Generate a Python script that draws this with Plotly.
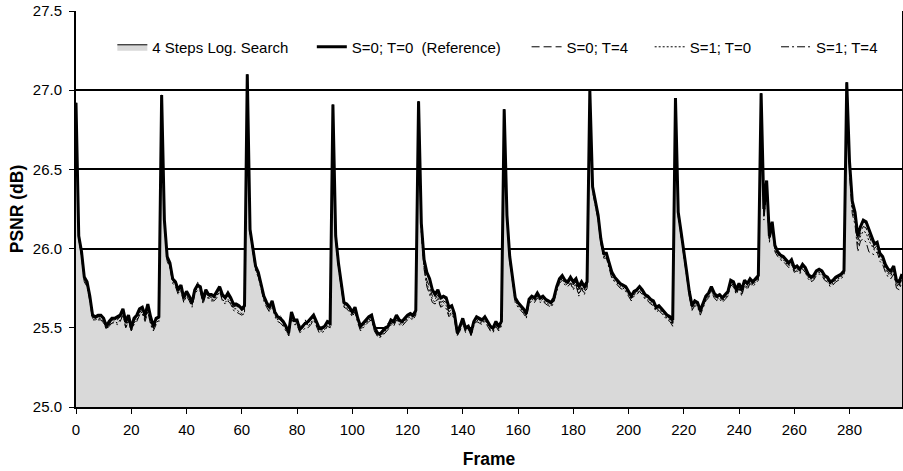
import plotly.graph_objects as go

frames = list(range(300))

psnr_s0_t0 = [
    26.92, 26.08, 25.98, 25.82, 25.79, 25.70, 25.58, 25.57, 25.58, 25.58,
    25.56, 25.51, 25.54, 25.56, 25.56, 25.57, 25.58, 25.62, 25.54, 25.58,
    25.50, 25.56, 25.58, 25.62, 25.63, 25.58, 25.65, 25.57, 25.51, 25.56,
    25.57, 26.97, 26.18, 25.95, 25.91, 25.81, 25.79, 25.74, 25.77, 25.69,
    25.73, 25.70, 25.66, 25.74, 25.77, 25.76, 25.68, 25.74, 25.71, 25.71,
    25.70, 25.73, 25.76, 25.71, 25.69, 25.72, 25.69, 25.65, 25.65, 25.64,
    25.62, 25.64, 27.10, 26.12, 26.00, 25.89, 25.85, 25.77, 25.70, 25.66,
    25.63, 25.67, 25.60, 25.57, 25.56, 25.54, 25.51, 25.47, 25.60, 25.55,
    25.55, 25.49, 25.51, 25.53, 25.54, 25.56, 25.58, 25.54, 25.50, 25.50,
    25.51, 25.54, 25.53, 26.91, 26.08, 25.91, 25.79, 25.66, 25.65, 25.63,
    25.60, 25.63, 25.56, 25.51, 25.53, 25.55, 25.57, 25.58, 25.51, 25.47,
    25.46, 25.48, 25.50, 25.51, 25.55, 25.54, 25.58, 25.55, 25.54, 25.56,
    25.58, 25.59, 25.58, 25.61, 26.93, 26.16, 25.93, 25.85, 25.81, 25.74,
    25.71, 25.74, 25.69, 25.70, 25.69, 25.63, 25.64, 25.59, 25.47, 25.51,
    25.56, 25.50, 25.51, 25.47, 25.54, 25.57, 25.56, 25.55, 25.57, 25.54,
    25.51, 25.50, 25.54, 25.51, 25.54, 26.88, 26.21, 25.95, 25.81, 25.69,
    25.66, 25.64, 25.62, 25.59, 25.68, 25.70, 25.69, 25.72, 25.69, 25.70,
    25.68, 25.67, 25.66, 25.69, 25.76, 25.81, 25.83, 25.80, 25.79, 25.82,
    25.79, 25.81, 25.76, 25.79, 25.76, 25.79, 27.00, 26.39, 26.31, 26.21,
    26.06, 25.97, 25.97, 25.91, 25.85, 25.82, 25.80, 25.78, 25.77, 25.76,
    25.73, 25.70, 25.73, 25.74, 25.76, 25.74, 25.71, 25.70, 25.68, 25.67,
    25.63, 25.64, 25.62, 25.60, 25.58, 25.57, 25.55, 26.95, 26.23, 26.11,
    26.00, 25.86, 25.73, 25.64, 25.67, 25.66, 25.61, 25.66, 25.70, 25.72,
    25.76, 25.72, 25.70, 25.71, 25.69, 25.71, 25.73, 25.80, 25.79, 25.74,
    25.78, 25.74, 25.80, 25.78, 25.81, 25.79, 25.81, 25.83, 26.98, 26.25,
    26.43, 26.08, 26.17, 26.02, 25.98, 25.96, 25.95, 25.93, 25.91, 25.93,
    25.88, 25.89, 25.87, 25.90, 25.88, 25.84, 25.82, 25.83, 25.86, 25.87,
    25.86, 25.83, 25.82, 25.79, 25.80, 25.82, 25.83, 25.84, 25.86, 27.05,
    26.55, 26.30, 26.23, 26.08, 26.14, 26.18, 26.17, 26.12, 26.07, 26.03,
    26.04, 25.97, 25.95, 25.90, 25.87, 25.86, 25.89, 25.80, 25.79, 25.84,
]

psnr_s0_t4 = [
    26.92, 26.06, 25.97, 25.81, 25.78, 25.69, 25.57, 25.56, 25.57, 25.57,
    25.55, 25.50, 25.52, 25.55, 25.55, 25.55, 25.57, 25.60, 25.52, 25.57,
    25.49, 25.54, 25.57, 25.60, 25.61, 25.56, 25.63, 25.55, 25.50, 25.55,
    25.56, 26.97, 26.16, 25.94, 25.90, 25.80, 25.78, 25.73, 25.76, 25.68,
    25.72, 25.69, 25.65, 25.73, 25.75, 25.75, 25.67, 25.73, 25.70, 25.69,
    25.69, 25.72, 25.75, 25.70, 25.68, 25.70, 25.68, 25.63, 25.64, 25.62,
    25.61, 25.62, 27.10, 26.10, 25.99, 25.88, 25.84, 25.76, 25.69, 25.65,
    25.62, 25.66, 25.59, 25.56, 25.55, 25.53, 25.50, 25.46, 25.58, 25.54,
    25.54, 25.48, 25.50, 25.52, 25.53, 25.55, 25.57, 25.53, 25.49, 25.49,
    25.50, 25.53, 25.52, 26.91, 26.06, 25.89, 25.78, 25.65, 25.64, 25.62,
    25.59, 25.62, 25.55, 25.50, 25.52, 25.54, 25.56, 25.57, 25.50, 25.46,
    25.45, 25.47, 25.49, 25.50, 25.54, 25.53, 25.57, 25.54, 25.53, 25.55,
    25.57, 25.58, 25.57, 25.60, 26.93, 26.12, 25.90, 25.80, 25.76, 25.70,
    25.68, 25.71, 25.66, 25.67, 25.66, 25.60, 25.62, 25.57, 25.46, 25.50,
    25.55, 25.49, 25.50, 25.46, 25.53, 25.56, 25.55, 25.54, 25.56, 25.53,
    25.50, 25.49, 25.53, 25.50, 25.53, 26.88, 26.19, 25.94, 25.80, 25.68,
    25.65, 25.63, 25.61, 25.58, 25.67, 25.69, 25.68, 25.71, 25.68, 25.69,
    25.67, 25.66, 25.65, 25.68, 25.75, 25.80, 25.82, 25.79, 25.78, 25.80,
    25.77, 25.79, 25.74, 25.77, 25.74, 25.77, 27.00, 26.38, 26.30, 26.20,
    26.05, 25.96, 25.96, 25.90, 25.84, 25.81, 25.79, 25.77, 25.76, 25.75,
    25.72, 25.69, 25.72, 25.73, 25.75, 25.73, 25.70, 25.69, 25.67, 25.66,
    25.62, 25.63, 25.61, 25.59, 25.57, 25.56, 25.53, 26.95, 26.22, 26.10,
    25.99, 25.85, 25.72, 25.63, 25.66, 25.65, 25.60, 25.65, 25.69, 25.71,
    25.75, 25.71, 25.69, 25.70, 25.68, 25.70, 25.72, 25.79, 25.78, 25.73,
    25.77, 25.73, 25.79, 25.77, 25.80, 25.78, 25.80, 25.82, 26.98, 26.22,
    26.40, 26.06, 26.15, 26.00, 25.97, 25.95, 25.94, 25.92, 25.90, 25.92,
    25.87, 25.88, 25.86, 25.89, 25.87, 25.83, 25.81, 25.82, 25.85, 25.86,
    25.85, 25.82, 25.81, 25.78, 25.79, 25.81, 25.82, 25.83, 25.85, 27.05,
    26.52, 26.27, 26.20, 26.05, 26.10, 26.14, 26.13, 26.08, 26.04, 26.00,
    26.02, 25.95, 25.93, 25.88, 25.85, 25.84, 25.87, 25.78, 25.77, 25.82,
]

psnr_s1_t0 = [
    26.92, 26.07, 25.96, 25.80, 25.77, 25.68, 25.56, 25.55, 25.56, 25.56,
    25.54, 25.49, 25.52, 25.53, 25.54, 25.53, 25.55, 25.59, 25.50, 25.55,
    25.48, 25.53, 25.55, 25.59, 25.60, 25.55, 25.61, 25.53, 25.49, 25.53,
    25.55, 26.97, 26.17, 25.93, 25.89, 25.79, 25.77, 25.72, 25.74, 25.67,
    25.71, 25.68, 25.64, 25.72, 25.79, 25.74, 25.66, 25.72, 25.69, 25.68,
    25.68, 25.70, 25.74, 25.68, 25.66, 25.68, 25.66, 25.62, 25.62, 25.60,
    25.59, 25.60, 27.10, 26.11, 25.98, 25.87, 25.83, 25.78, 25.68, 25.64,
    25.61, 25.65, 25.58, 25.55, 25.58, 25.52, 25.49, 25.45, 25.57, 25.53,
    25.53, 25.52, 25.49, 25.55, 25.51, 25.53, 25.56, 25.52, 25.48, 25.48,
    25.49, 25.52, 25.51, 26.91, 26.07, 25.90, 25.77, 25.64, 25.63, 25.61,
    25.58, 25.61, 25.54, 25.49, 25.51, 25.53, 25.55, 25.56, 25.49, 25.45,
    25.44, 25.46, 25.48, 25.53, 25.53, 25.52, 25.56, 25.53, 25.52, 25.54,
    25.56, 25.57, 25.56, 25.59, 26.93, 26.14, 25.88, 25.78, 25.73, 25.68,
    25.66, 25.69, 25.64, 25.66, 25.64, 25.58, 25.60, 25.56, 25.45, 25.49,
    25.54, 25.48, 25.52, 25.45, 25.52, 25.55, 25.54, 25.53, 25.55, 25.52,
    25.49, 25.48, 25.52, 25.49, 25.52, 26.88, 26.20, 25.93, 25.79, 25.67,
    25.64, 25.62, 25.60, 25.57, 25.66, 25.68, 25.67, 25.70, 25.67, 25.68,
    25.66, 25.65, 25.64, 25.67, 25.74, 25.79, 25.81, 25.78, 25.77, 25.79,
    25.75, 25.78, 25.71, 25.76, 25.72, 25.76, 27.00, 26.37, 26.29, 26.19,
    26.04, 25.95, 25.95, 25.89, 25.82, 25.80, 25.78, 25.76, 25.75, 25.74,
    25.71, 25.68, 25.71, 25.72, 25.74, 25.72, 25.69, 25.68, 25.66, 25.65,
    25.61, 25.62, 25.60, 25.58, 25.56, 25.55, 25.52, 26.95, 26.21, 26.09,
    25.98, 25.84, 25.71, 25.62, 25.65, 25.64, 25.59, 25.64, 25.68, 25.70,
    25.74, 25.70, 25.68, 25.69, 25.67, 25.69, 25.71, 25.78, 25.77, 25.72,
    25.76, 25.71, 25.78, 25.75, 25.79, 25.77, 25.79, 25.81, 26.98, 26.20,
    26.38, 26.05, 26.14, 25.99, 25.96, 25.94, 25.93, 25.91, 25.89, 25.91,
    25.86, 25.87, 25.85, 25.88, 25.86, 25.82, 25.80, 25.81, 25.84, 25.85,
    25.84, 25.81, 25.80, 25.77, 25.78, 25.80, 25.81, 25.82, 25.84, 27.05,
    26.50, 26.25, 26.18, 26.02, 26.08, 26.11, 26.10, 26.05, 26.02, 25.99,
    26.00, 25.94, 25.92, 25.87, 25.84, 25.83, 25.86, 25.77, 25.76, 25.81,
]

psnr_s1_t4 = [
    26.92, 26.06, 25.95, 25.79, 25.76, 25.67, 25.55, 25.55, 25.55, 25.55,
    25.53, 25.49, 25.51, 25.53, 25.53, 25.52, 25.54, 25.58, 25.50, 25.54,
    25.48, 25.52, 25.54, 25.58, 25.59, 25.54, 25.60, 25.52, 25.48, 25.52,
    25.54, 26.97, 26.16, 25.92, 25.88, 25.78, 25.76, 25.71, 25.73, 25.66,
    25.70, 25.67, 25.63, 25.71, 25.74, 25.73, 25.65, 25.71, 25.68, 25.67,
    25.67, 25.69, 25.73, 25.67, 25.65, 25.67, 25.65, 25.61, 25.60, 25.59,
    25.58, 25.59, 27.10, 26.10, 25.97, 25.86, 25.82, 25.75, 25.67, 25.63,
    25.60, 25.64, 25.57, 25.54, 25.53, 25.51, 25.48, 25.45, 25.56, 25.52,
    25.52, 25.47, 25.48, 25.50, 25.50, 25.52, 25.55, 25.51, 25.47, 25.47,
    25.48, 25.51, 25.50, 26.91, 26.05, 25.88, 25.76, 25.63, 25.62, 25.60,
    25.57, 25.60, 25.53, 25.48, 25.50, 25.52, 25.54, 25.55, 25.48, 25.45,
    25.44, 25.45, 25.47, 25.49, 25.52, 25.51, 25.55, 25.52, 25.51, 25.53,
    25.55, 25.56, 25.55, 25.58, 26.93, 26.10, 25.87, 25.76, 25.71, 25.66,
    25.65, 25.68, 25.63, 25.64, 25.62, 25.57, 25.59, 25.55, 25.45, 25.48,
    25.53, 25.47, 25.49, 25.45, 25.51, 25.54, 25.53, 25.52, 25.54, 25.51,
    25.48, 25.47, 25.51, 25.48, 25.51, 26.88, 26.18, 25.92, 25.78, 25.66,
    25.63, 25.61, 25.59, 25.56, 25.65, 25.67, 25.66, 25.69, 25.66, 25.67,
    25.65, 25.64, 25.63, 25.66, 25.73, 25.78, 25.80, 25.77, 25.76, 25.78,
    25.74, 25.77, 25.70, 25.75, 25.71, 25.75, 27.00, 26.36, 26.28, 26.18,
    26.03, 25.94, 25.94, 25.88, 25.81, 25.79, 25.77, 25.75, 25.74, 25.73,
    25.70, 25.67, 25.70, 25.71, 25.73, 25.71, 25.68, 25.67, 25.65, 25.64,
    25.60, 25.61, 25.59, 25.57, 25.55, 25.54, 25.51, 26.95, 26.20, 26.08,
    25.97, 25.83, 25.70, 25.61, 25.64, 25.63, 25.58, 25.63, 25.67, 25.69,
    25.73, 25.69, 25.67, 25.68, 25.66, 25.68, 25.70, 25.77, 25.76, 25.71,
    25.75, 25.70, 25.77, 25.74, 25.78, 25.76, 25.78, 25.80, 26.98, 26.18,
    26.36, 26.04, 26.13, 25.98, 25.95, 25.93, 25.92, 25.90, 25.88, 25.90,
    25.85, 25.86, 25.84, 25.87, 25.85, 25.81, 25.79, 25.80, 25.83, 25.84,
    25.83, 25.80, 25.79, 25.76, 25.77, 25.79, 25.80, 25.81, 25.83, 27.05,
    26.48, 26.22, 26.15, 25.98, 26.05, 26.06, 26.04, 25.98, 25.97, 25.96,
    25.98, 25.92, 25.90, 25.85, 25.82, 25.81, 25.84, 25.75, 25.74, 25.79,
]

psnr_logsearch = [
    26.91, 26.07, 25.97, 25.81, 25.78, 25.69, 25.57, 25.56, 25.57, 25.57,
    25.55, 25.50, 25.53, 25.55, 25.55, 25.56, 25.57, 25.61, 25.53, 25.57,
    25.49, 25.55, 25.57, 25.61, 25.62, 25.57, 25.64, 25.56, 25.50, 25.55,
    25.56, 26.96, 26.17, 25.94, 25.90, 25.80, 25.78, 25.73, 25.76, 25.68,
    25.72, 25.69, 25.65, 25.73, 25.76, 25.75, 25.67, 25.73, 25.70, 25.70,
    25.69, 25.72, 25.75, 25.70, 25.68, 25.71, 25.68, 25.64, 25.64, 25.63,
    25.61, 25.63, 27.09, 26.11, 25.99, 25.88, 25.84, 25.76, 25.69, 25.65,
    25.62, 25.66, 25.59, 25.56, 25.55, 25.53, 25.50, 25.46, 25.59, 25.54,
    25.54, 25.48, 25.50, 25.52, 25.53, 25.55, 25.57, 25.53, 25.49, 25.49,
    25.50, 25.53, 25.52, 26.90, 26.07, 25.90, 25.78, 25.65, 25.64, 25.62,
    25.59, 25.62, 25.55, 25.50, 25.52, 25.54, 25.56, 25.57, 25.50, 25.46,
    25.45, 25.47, 25.49, 25.50, 25.54, 25.53, 25.57, 25.54, 25.53, 25.55,
    25.57, 25.58, 25.57, 25.60, 26.92, 26.15, 25.92, 25.84, 25.80, 25.73,
    25.70, 25.73, 25.68, 25.69, 25.68, 25.62, 25.63, 25.58, 25.46, 25.50,
    25.55, 25.49, 25.50, 25.46, 25.53, 25.56, 25.55, 25.54, 25.56, 25.53,
    25.50, 25.49, 25.53, 25.50, 25.53, 26.87, 26.20, 25.94, 25.80, 25.68,
    25.65, 25.63, 25.61, 25.58, 25.67, 25.69, 25.68, 25.71, 25.68, 25.69,
    25.67, 25.66, 25.65, 25.68, 25.75, 25.80, 25.82, 25.79, 25.78, 25.81,
    25.78, 25.80, 25.75, 25.78, 25.75, 25.78, 26.99, 26.38, 26.30, 26.20,
    26.05, 25.96, 25.96, 25.90, 25.84, 25.81, 25.79, 25.77, 25.76, 25.75,
    25.72, 25.69, 25.72, 25.73, 25.75, 25.73, 25.70, 25.69, 25.67, 25.66,
    25.62, 25.63, 25.61, 25.59, 25.57, 25.56, 25.54, 26.94, 26.22, 26.10,
    25.99, 25.85, 25.72, 25.63, 25.66, 25.65, 25.60, 25.65, 25.69, 25.71,
    25.75, 25.71, 25.69, 25.70, 25.68, 25.70, 25.72, 25.79, 25.78, 25.73,
    25.77, 25.73, 25.79, 25.77, 25.80, 25.78, 25.80, 25.82, 26.97, 26.24,
    26.42, 26.07, 26.16, 26.01, 25.97, 25.95, 25.94, 25.92, 25.90, 25.92,
    25.87, 25.88, 25.86, 25.89, 25.87, 25.83, 25.81, 25.82, 25.85, 25.86,
    25.85, 25.82, 25.81, 25.78, 25.79, 25.81, 25.82, 25.83, 25.85, 27.04,
    26.54, 26.29, 26.22, 26.07, 26.13, 26.17, 26.16, 26.11, 26.06, 26.02,
    26.03, 25.96, 25.94, 25.89, 25.86, 25.85, 25.88, 25.79, 25.78, 25.83,
]

series_names = ["4 Steps Log. Search", "S=0; T=0  (Reference)", "S=0; T=4",
                "S=1; T=0", "S=1; T=4"]
x_ticks = list(range(0, 300, 20))
y_ticks = [25.0, 25.5, 26.0, 26.5, 27.0, 27.5]

FONT = "Liberation Sans, Arial, sans-serif"

fig = go.Figure()
fig.add_trace(go.Scatter(
    x=frames, y=psnr_logsearch, name=series_names[0], mode="lines",
    fill="tozeroy", fillcolor="#d9d9d9", showlegend=True,
    line=dict(color="black", width=1), legend="legend"))
fig.add_trace(go.Scatter(
    x=frames, y=psnr_s0_t4, name=series_names[2], mode="lines", showlegend=True,
    line=dict(color="black", width=1, dash="8px,4px"), legend="legend3"))
fig.add_trace(go.Scatter(
    x=frames, y=psnr_s1_t0, name=series_names[3], mode="lines", showlegend=True,
    line=dict(color="black", width=1, dash="2px,2px"), legend="legend4"))
fig.add_trace(go.Scatter(
    x=frames, y=psnr_s1_t4, name=series_names[4], mode="lines", showlegend=True,
    line=dict(color="black", width=1, dash="8px,3px,2px,3px"), legend="legend5"))
fig.add_trace(go.Scatter(
    x=frames, y=psnr_s0_t0, name=series_names[1], mode="lines", showlegend=True,
    line=dict(color="black", width=3), legend="legend2"))

leg_y = 0.909
def leg(xpos):
    return dict(x=xpos, y=leg_y, xanchor="left", yanchor="middle",
                orientation="h", bgcolor="rgba(0,0,0,0)", borderwidth=0,
                font=dict(family=FONT, size=15, color="black"))

fig.update_layout(
    width=903, height=471,
    showlegend=True,
    margin=dict(l=76, r=1, t=11, b=64, autoexpand=False),
    paper_bgcolor="white", plot_bgcolor="white",
    font=dict(family=FONT, size=15, color="black"),
    legend=leg(0.044), legend2=leg(0.2855), legend3=leg(0.5455),
    legend4=leg(0.6945), legend5=leg(0.8475),
    xaxis=dict(range=[0, 299], tickvals=x_ticks, showgrid=False,
               showline=True, linecolor="black", linewidth=2,
               ticks="outside", ticklen=5, tickcolor="black", tickwidth=1,
               tickfont=dict(size=15), zeroline=False, automargin=False,
               ticklabelstandoff=3,
               title=dict(text="<b>Frame</b>", font=dict(size=17.5), standoff=16)),
    yaxis=dict(range=[25, 27.5], tickvals=y_ticks, tickformat=".1f",
               showgrid=True, gridcolor="black", gridwidth=1.5,
               showline=True, linecolor="black", linewidth=2, mirror=True,
               ticks="outside", ticklen=5, tickcolor="black", tickwidth=1,
               tickfont=dict(size=15), zeroline=False, ticklabelstandoff=4,
               automargin=False,
               title=dict(text="<b>PSNR (dB)</b>", font=dict(size=17.5), standoff=5)),
)

fig.write_html("out.html", config={"displayModeBar": False},
               post_script="document.body.style.margin='0px';")
